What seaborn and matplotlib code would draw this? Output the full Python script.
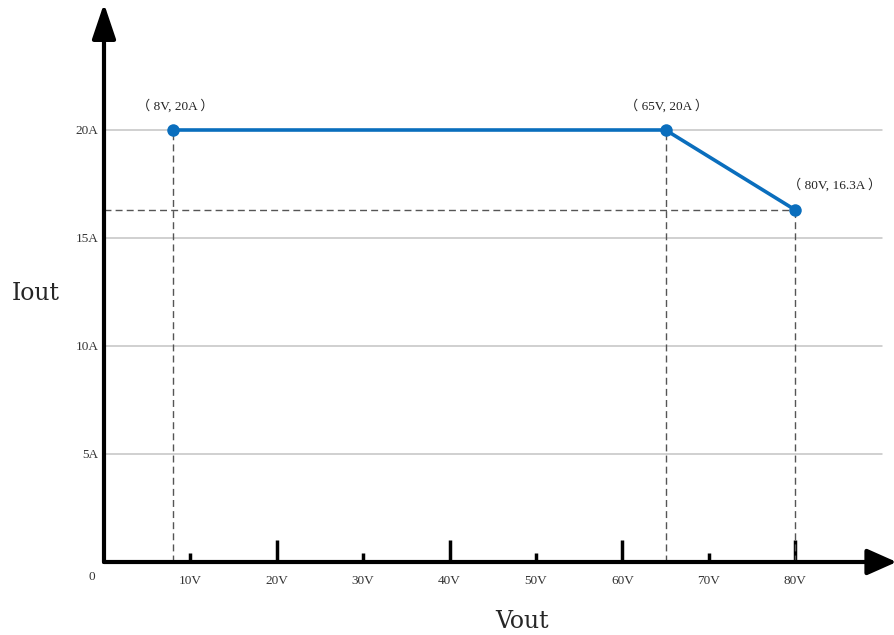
import matplotlib
matplotlib.use("Agg")
import matplotlib.pyplot as plt
import seaborn as sns
import pandas as pd

# data
vout = [8, 65, 80]
iout = [20, 20, 16.3]
point_labels = ["（ 8V, 20A ）", "（ 65V, 20A ）", "（ 80V, 16.3A ）"]
x_major = [20, 40, 60, 80]
x_minor = [10, 30, 50, 70]
y_ticks = [5, 10, 15, 20]
y_tick_labels = ["5A", "10A", "15A", "20A"]

sns.set_style("white")
plt.rcParams["font.family"] = ["Liberation Serif", "Noto Sans CJK SC", "DejaVu Sans"]

fig = plt.figure(figsize=(8.94, 6.35), dpi=100)
ax = fig.add_axes([104 / 894, (635 - 562) / 635, 790 / 894, 552 / 635])
ax.set_xlim(0, 790 / 8.64)
ax.set_ylim(0, 552 / 21.6)
for s in ax.spines.values():
    s.set_visible(False)

# grid lines
for y in y_ticks:
    ax.plot([0, 90], [y, y], color="#c4c4c4", lw=1.1, zorder=1)

# dashed guides
for x, y in zip(vout, iout):
    ax.plot([x, x], [0, y], color="#555555", lw=1, ls=(0, (5, 3)), zorder=2)
ax.plot([0, vout[2]], [iout[2], iout[2]], color="#555555", lw=1, ls=(0, (5, 3)), zorder=2)

df = pd.DataFrame({"Vout": vout, "Iout": iout})
sns.lineplot(data=df, x="Vout", y="Iout", ax=ax, color="#0a6ebd", lw=2.6,
             marker="o", markersize=9, markeredgewidth=0, sort=False, zorder=4)

# annotations
offsets = [(0.3, 1.1), (0.1, 1.1), (4.6, 1.15)]
for (x, y), lab, (dx, dy) in zip(zip(vout, iout), point_labels, offsets):
    ax.text(x + dx, y + dy, lab, ha="center", va="center", fontsize=9.5, color="#222222")

# axis arrows
ax.annotate("", xy=(790 / 8.64 + 0.3, 0), xytext=(0, 0),
            arrowprops=dict(arrowstyle="-|>,head_length=0.72,head_width=0.32", lw=3,
                            color="black", shrinkA=0, shrinkB=0, mutation_scale=25),
            annotation_clip=False, zorder=5)
ax.annotate("", xy=(0, 552 / 21.6 + 0.3), xytext=(0, 0),
            arrowprops=dict(arrowstyle="-|>,head_length=0.86,head_width=0.29", lw=3,
                            color="black", shrinkA=0, shrinkB=0, mutation_scale=25),
            annotation_clip=False, zorder=5)

# ticks
ax.set_xticks(x_major)
ax.set_xticks(x_minor, minor=True)
ax.set_xticklabels([f"{v}V" for v in x_major])
ax.set_xticklabels([f"{v}V" for v in x_minor], minor=True)
ax.tick_params(axis="x", which="major", direction="in", length=16, width=2.5,
               color="black", pad=9, labelsize=9.5, bottom=True)
ax.tick_params(axis="x", which="minor", direction="in", length=6.5, width=2.5,
               color="black", pad=9, labelsize=9.5, bottom=True)
ax.set_yticks(y_ticks)
ax.set_yticklabels(y_tick_labels)
ax.tick_params(axis="y", length=0, pad=4, labelsize=9.5)
for t in ax.get_xticklabels() + ax.get_xticklabels(minor=True) + ax.get_yticklabels():
    t.set_color("#333333")

ax.text(-1.39, -0.69, "0", ha="center", va="center", fontsize=9.5, color="#333333")

ax.set_xlabel("")
ax.set_ylabel("")
fig.text(36 / 894, 1 - 293 / 635, "Iout", ha="center", va="center", fontsize=17,
         family="DejaVu Serif")
fig.text(522 / 894, 1 - 622 / 635, "Vout", ha="center", va="center", fontsize=17,
         family="DejaVu Serif")

fig.savefig("out.png", dpi=100)
